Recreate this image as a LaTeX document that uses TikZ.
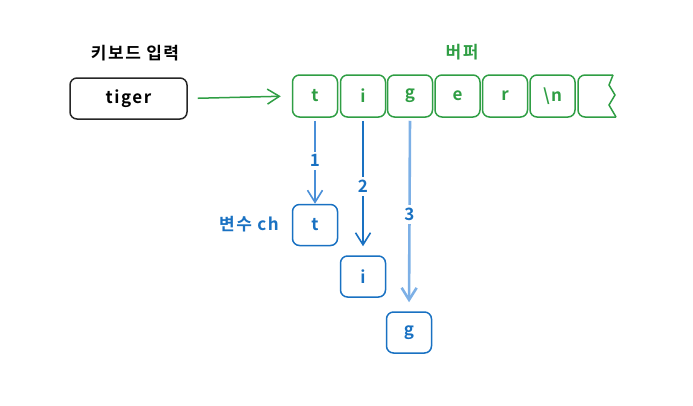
\documentclass[tikz,border=0pt]{standalone}
\usepackage{fontspec}
\setmainfont{Noto Sans CJK KR}[BoldFont={Noto Sans CJK KR Bold}, LetterSpace=9]
\usepackage{tikz}
\usetikzlibrary{arrows.meta}

\definecolor{bufgreen}{HTML}{2F9E44}
\definecolor{varblue}{HTML}{1971C2}
\definecolor{midblue}{HTML}{4A8FD8}
\definecolor{lightblue}{HTML}{7DB0E6}

\begin{document}
\begin{tikzpicture}
[x=1pt, y=-1pt,
every node/.style={inner sep=0pt, font=\fontsize{17}{19}\selectfont\bfseries},
inbox/.style={draw=black!85, line width=1.5pt, rounded corners=7pt,
  minimum width=117pt, minimum height=41pt},
cell/.style={draw=bufgreen, text=bufgreen, line width=1.5pt, rounded corners=7pt,
  minimum width=45pt, minimum height=42pt},
var/.style={draw=varblue, text=varblue, line width=1.5pt, rounded corners=7pt,
  minimum width=45pt, minimum height=41pt},
step label/.style={fill=white, text=varblue, inner sep=3pt},
tip/.style={-{Straight Barb[length=12pt, width=15pt]}}]

\useasboundingbox (0,0) rectangle (693,405);

% keyboard input
\node (inlabel) at (135,53) {키보드 입력};
\node[inbox] (input) at (128.5,98.5) {tiger};

% buffer
\node[text=bufgreen] (buflabel) at (462,52) {버퍼};
\node[cell] (c1) at (315,96) {t};
\node[cell] (c2) at (363,96) {i};
\node[cell] (c3) at (410,96) {g};
\node[cell] (c4) at (457.5,96) {e};
\node[cell] (c5) at (505,96) {r};
\node[cell] (c6) at (552.5,96) {\textbackslash n};
\draw[bufgreen, line width=1.5pt, rounded corners=7pt]
  (613,75) -- (578,75) -- (578,117) -- (616,117);
\draw[bufgreen, line width=1.5pt]
  (613,75) -- (609,85) -- (615,95) -- (609,105) -- (616,117);

\draw[tip, bufgreen, line width=1.5pt, shorten <=10pt, shorten >=11pt]
  (input.east) -- (c1.west);

% variable ch
\node[var] (vt) at (315,225) {t};
\node[var] (vi) at (363,276.5) {i};
\node[var] (vg) at (409,332.5) {g};
\node[text=varblue, anchor=east] (varlabel) at (279,224) {변수 ch};

\draw[tip, midblue, line width=1.6pt, shorten <=3pt]
  (c1.south) -- node[step label] {1} (vt.north);
\draw[tip, varblue, line width=1.6pt, shorten <=3pt, shorten >=9pt]
  (c2.south) -- node[step label] {2} (vi.north);
\draw[tip, lightblue, line width=2.6pt, shorten <=3pt, shorten >=9pt]
  (c3.south) -- node[step label] {3} (vg.north);
\end{tikzpicture}
\end{document}
